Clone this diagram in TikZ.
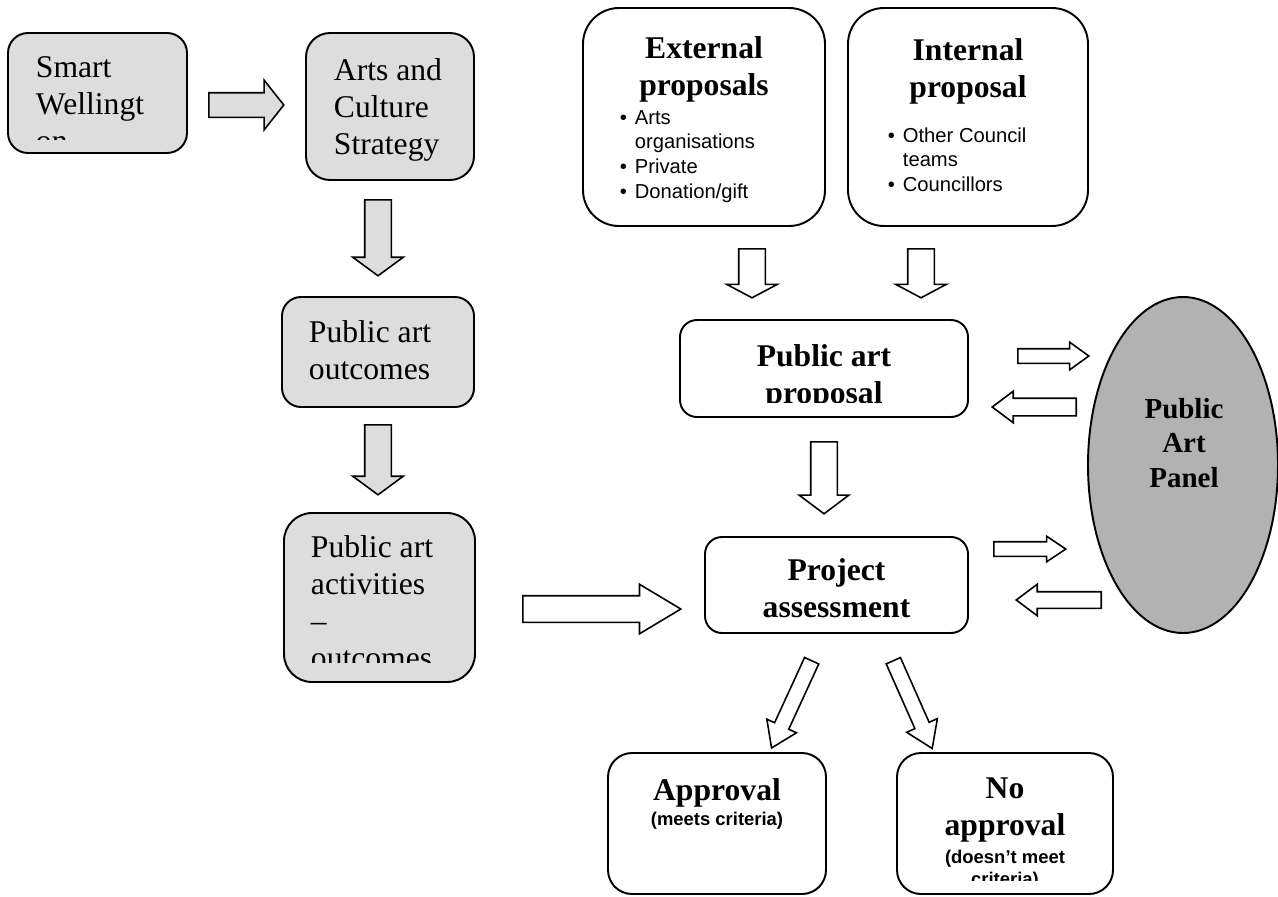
\documentclass[tikz,border=0pt]{standalone}
\usepackage{fontspec}
\setmainfont{Liberation Serif}
\setsansfont{Liberation Sans}
\usetikzlibrary{shapes.geometric,shapes.arrows}

\definecolor{boxgray}{HTML}{DDDDDD}
\definecolor{panelgray}{HTML}{B2B2B2}
\newcommand{\pxu}{0.02cm}
\newcommand{\blt}{\makebox[8.5pt][l]{\textbullet}}
\newcommand{\bltsp}{\hspace*{8.5pt}}

\begin{document}
\begin{tikzpicture}[x=0.02cm, y=-0.02cm, line width=1.1pt,
    stepbox/.style={draw, inner sep=0pt},
    graybox/.style={stepbox, fill=boxgray},
    whitebox/.style={stepbox, fill=white},
    graytext/.style={inner sep=0pt, align=left, font=\fontsize{18}{21}\selectfont},
    headtext/.style={inner sep=0pt, align=center, font=\fontsize{18}{21}\selectfont\bfseries},
    listtext/.style={inner sep=0pt, align=left, font=\fontsize{11.5}{14}\selectfont\sffamily},
    notetext/.style={inner sep=0pt, align=center, font=\fontsize{10.5}{12.5}\selectfont\sffamily\bfseries},
    blockarrow/.style n args={3}{single arrow, draw, line width=0.9pt, inner xsep=0pt,
        inner ysep=#1*\pxu/2, text height=0pt, text depth=0pt,
        single arrow head extend={(#2-#1)*\pxu/2},
        single arrow tip angle={2*atan(#2/(2*#3))},
        minimum width=#2*\pxu, anchor=tail},
    grayarrow/.style={fill=boxgray},
    whitearrow/.style={fill=white}]
    \useasboundingbox (0,0) rectangle (1278,896);

    \node (smart) [graybox, rounded corners=20*\pxu, minimum width=179*\pxu, minimum height=120*\pxu] at (97.5,93) {};
    \node (arts) [graybox, rounded corners=24*\pxu, minimum width=168*\pxu, minimum height=147*\pxu] at (390,106.5) {};
    \node (outcomes) [graybox, rounded corners=19*\pxu, minimum width=192*\pxu, minimum height=110*\pxu] at (378,352) {};
    \node (activities) [graybox, rounded corners=28*\pxu, minimum width=191*\pxu, minimum height=169*\pxu] at (379.5,597.5) {};
    \node (external) [whitebox, rounded corners=36*\pxu, minimum width=242*\pxu, minimum height=218*\pxu] at (704,117) {};
    \node (internal) [whitebox, rounded corners=36*\pxu, minimum width=240*\pxu, minimum height=218*\pxu] at (968,117) {};
    \node (proposal) [whitebox, rounded corners=17*\pxu, minimum width=288*\pxu, minimum height=97*\pxu] at (824,368.5) {};
    \node (assessment) [whitebox, rounded corners=17*\pxu, minimum width=263*\pxu, minimum height=96*\pxu] at (836.5,585) {};
    \node (approval) [whitebox, rounded corners=24*\pxu, minimum width=218*\pxu, minimum height=141*\pxu] at (717,823.5) {};
    \node (noapproval) [whitebox, rounded corners=24*\pxu, minimum width=216*\pxu, minimum height=141*\pxu] at (1005,823.5) {};
    \node (panel) [draw, ellipse, fill=panelgray, inner sep=0pt, minimum width=190*\pxu, minimum height=336*\pxu] at (1183,465) {};

    \begin{scope}
        \clip (8,33) rectangle (187,139);
        \node (smarttxt) [graytext, anchor=base west] at (35,151) {Smart\\Wellingt\\on};
    \end{scope}
    \node (artstxt) [graytext, anchor=base west] at (333,154) {Arts and\\Culture\\Strategy};
    \node (outtxt) [graytext, anchor=base west] at (308,379) {Public art\\outcomes};
    \begin{scope}
        \clip (284,513) rectangle (475,662);
        \node (acttxt) [graytext, anchor=base west] at (310,668) {Public art\\activities\\--\\outcomes};
    \end{scope}

    \node (exthead) [headtext, anchor=base] at (704,95) {External\\proposals};
    \node (extlist) [listtext, anchor=base west] at (619,198.1) {\blt Arts\\\bltsp organisations\\\blt Private\\\blt Donation/gift};
    \node (inthead) [headtext, anchor=base] at (968,97) {Internal\\proposal};
    \node (intlist) [listtext, anchor=base west] at (887,191.4) {\blt Other Council\\\bltsp teams\\\blt Councillors};
    \begin{scope}
        \clip (680,320) rectangle (968,402);
        \node (proptxt) [headtext, anchor=base] at (824,403) {Public art\\proposal};
    \end{scope}
    \node (asstxt) [headtext, anchor=base] at (836.5,617) {Project\\assessment};
    \node (paneltxt) [headtext, anchor=base, font=\fontsize{16.5}{19.6}\selectfont\bfseries] at (1184,487.2) {Public\\Art\\Panel};
    \node (apprhead) [headtext, anchor=base] at (717,800) {Approval};
    \node (apprnote) [notetext, anchor=base] at (717,825) {(meets criteria)};
    \node (noapphead) [headtext, anchor=base] at (1005,835) {No\\approval};
    \begin{scope}
        \clip (897,753) rectangle (1113,880);
        \node (noappnote) [notetext, anchor=base] at (1005,885) {(doesn’t meet\\criteria)};
    \end{scope}

    \node (arrA) [blockarrow={23}{48}{19}, grayarrow, minimum height=75*\pxu] at (208,105) {};
    \node (arrB) [blockarrow={25}{49}{18}, grayarrow, minimum height=76*\pxu, rotate=-90] at (378,199) {};
    \node (arrC) [blockarrow={25}{49}{18}, grayarrow, minimum height=70*\pxu, rotate=-90] at (378,424) {};
    \node (arrD) [blockarrow={25}{48}{40}, whitearrow, minimum height=158*\pxu] at (522,609) {};
    \node (arrE) [blockarrow={25}{49}{13}, whitearrow, minimum height=49*\pxu, rotate=-90] at (752,248) {};
    \node (arrF) [blockarrow={25}{49}{13}, whitearrow, minimum height=49*\pxu, rotate=-90] at (921,248) {};
    \node (arrG) [blockarrow={25}{48}{18}, whitearrow, minimum height=72*\pxu, rotate=-90] at (824,441) {};
    \node (arrH) [blockarrow={13}{26}{18}, whitearrow, minimum height=71*\pxu] at (1017,356) {};
    \node (arrI) [blockarrow={16}{30}{20}, whitearrow, minimum height=84*\pxu, rotate=180] at (1077,407) {};
    \node (arrJ) [blockarrow={13}{24}{18}, whitearrow, minimum height=72*\pxu] at (993,549) {};
    \node (arrK) [blockarrow={15}{30}{20}, whitearrow, minimum height=85*\pxu, rotate=180] at (1102,600) {};
    \node (arrL) [blockarrow={14}{31}{23}, whitearrow, minimum height=96*\pxu, rotate=-114.7] at (812,660) {};
    \node (arrM) [blockarrow={14}{32}{24}, whitearrow, minimum height=96*\pxu, rotate=-66.1] at (893,660) {};
\end{tikzpicture}
\end{document}
